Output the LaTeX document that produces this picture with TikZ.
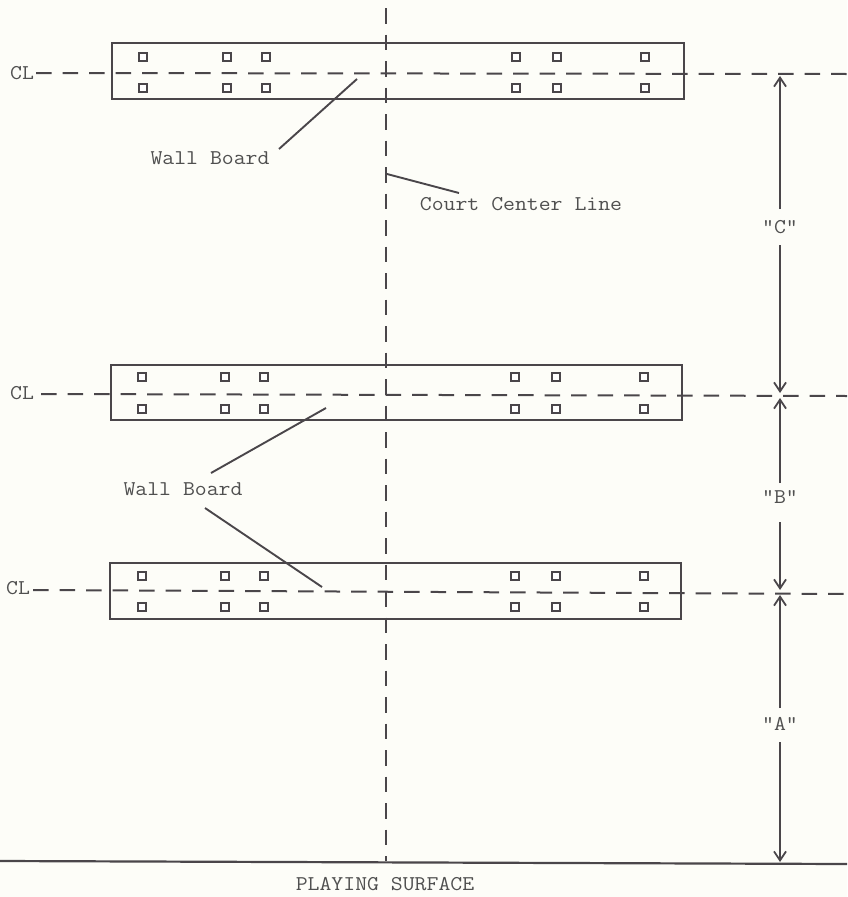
\documentclass[tikz,border=0pt]{standalone}
\usepackage{fontspec}
\usetikzlibrary{arrows.meta}
\definecolor{paper}{HTML}{FDFDF8}
\definecolor{ink}{HTML}{4A464A}
\definecolor{txt}{HTML}{505050}
\newcommand{\widetxt}[1]{\scalebox{1.1}[1]{#1}}
\tikzset{
 x=1pt,y=-1pt,
 lbl/.style={inner sep=0pt,text=txt,font=\ttfamily\fontsize{21}{21}\selectfont},
 board/.style={draw=ink,line width=2pt},
 hole/.style={draw=ink,line width=1.7pt,fill=white,minimum size=8.5pt,inner sep=0pt,rectangle},
 cline/.style={draw=ink,line width=2pt,dash pattern=on 15.5pt off 11pt},
 leader/.style={draw=ink,line width=1.9pt},
 dim/.style={draw=ink,line width=1.7pt,-{Straight Barb[length=9pt,width=12pt,line width=1.8pt]}},
}
\newcommand{\holesrow}[3]{%
 \foreach \hx in {#1}{\node[hole] (h#3\hx) at (\hx,#2) {};}}
\begin{document}
\begin{tikzpicture}
\useasboundingbox[fill=paper] (0,0) rectangle (847,897);
% boards
\draw[board] (112,43) rectangle (684,99);
\draw[board] (111,365) rectangle (682,420);
\draw[board] (110,563) rectangle (681,619);
\holesrow{143,227,266,516,557,645}{57}{a}
\holesrow{143,227,266,516,557,645}{88}{b}
\holesrow{142,225,264,515,556,644}{377}{c}
\holesrow{142,225,264,515,556,644}{409}{d}
\holesrow{142,225,264,515,556,644}{576}{e}
\holesrow{142,225,264,515,556,644}{607}{f}
% labels
\node[lbl] (cl1) at (22,73) {\widetxt{CL}};
\node[lbl] (cl2) at (22,393) {\widetxt{CL}};
\node[lbl] (cl3) at (18,588) {\widetxt{CL}};
\node[lbl] (wb1) at (210,158) {\widetxt{Wall Board}};
\node[lbl] (wb2) at (183,489) {\widetxt{Wall Board}};
\node[lbl] (ccl) at (521,204) {\widetxt{Court Center Line}};
\node[lbl] (dc) at (780,227) {\widetxt{"C"}};
\node[lbl] (db) at (780,497) {\widetxt{"B"}};
\node[lbl] (da) at (780,724) {\widetxt{"A"}};
\node[lbl] (ps) at (385,884) {\widetxt{PLAYING SURFACE}};
% centre lines
\coordinate (r1) at (847,74);
\coordinate (r2) at (847,396);
\coordinate (r3) at (847,594);
\draw[cline] (cl1.east) ++(2,0) -- (r1);
\draw[cline] (cl2.east) ++(7,1) -- (r2);
\draw[cline] (cl3.east) ++(3,2) -- (r3);
\coordinate (vt) at (386,8);
\coordinate (vb) at (386,861);
\draw[cline] (vt) -- (vb);
% playing surface
\coordinate (g1) at (0,861);
\coordinate (g2) at (847,864);
\draw[draw=ink,line width=2.2pt] (g1) -- (g2);
% leaders
\coordinate (l1a) at (357,79); \coordinate (l1b) at (279,149);
\coordinate (l2a) at (326,408); \coordinate (l2b) at (211,473);
\coordinate (l3a) at (322,587); \coordinate (l3b) at (205,508);
\coordinate (l4a) at (387,174); \coordinate (l4b) at (459,193);
\draw[leader] (l1a) -- (l1b);
\draw[leader] (l2a) -- (l2b);
\draw[leader] (l3a) -- (l3b);
\draw[leader] (l4a) -- (l4b);
% dimensions
\coordinate (t1) at (780,76);
\coordinate (t2) at (780,393);
\coordinate (t3) at (780,398);
\coordinate (t4) at (780,590);
\coordinate (t5) at (780,595);
\coordinate (t6) at (780,862);
\draw[dim] (780,209) -- (t1);
\draw[dim] (780,245) -- (t2);
\draw[dim] (780,483) -- (t3);
\draw[dim] (780,522) -- (t4);
\draw[dim] (780,708) -- (t5);
\draw[dim] (780,742) -- (t6);
\end{tikzpicture}
\end{document}
